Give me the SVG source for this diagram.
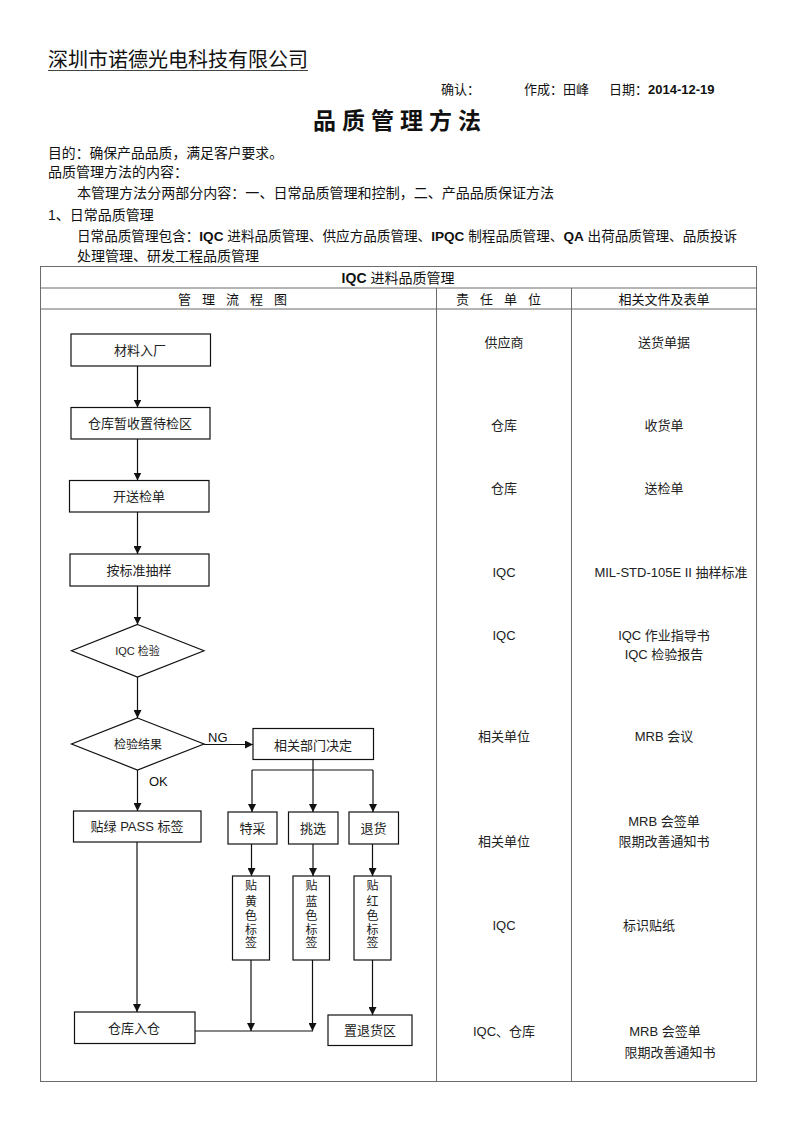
<svg xmlns="http://www.w3.org/2000/svg" width="794" height="1123" viewBox="0 0 794 1123">
<style>
text{font-family:"Liberation Sans","Noto Sans CJK SC",sans-serif;fill:#111}
.b{font-size:14px}
.f{font-size:13px;fill:#222;text-anchor:middle}
.c{text-anchor:middle}
.node{fill:#fff;stroke:#111;stroke-width:1.2}
.tl{stroke:#6b6b6b;stroke-width:1;fill:none}
.cn{stroke:#111;stroke-width:1.2;fill:none}
.bold{font-weight:bold}
</style>
<defs>
<marker id="ah" viewBox="0 0 10 10" refX="10" refY="5" markerWidth="8" markerHeight="8" markerUnits="userSpaceOnUse" orient="auto">
<path d="M0,0 L10,5 L0,10 z" fill="#111"/>
</marker>
</defs>
<rect width="794" height="1123" fill="#fff"/>

<g id="header">
<text x="48" y="67" style="font-size:20px" textLength="260" lengthAdjust="spacingAndGlyphs">深圳市诺德光电科技有限公司</text>
<line x1="48" y1="70.5" x2="308" y2="70.5" stroke="#444" stroke-width="1.2"/>
<text x="441" y="94" style="font-size:13px">确认：</text>
<text x="524" y="94" style="font-size:13px">作成：田峰</text>
<text x="609" y="94" style="font-size:13px">日期：<tspan class="bold">2014-12-19</tspan></text>
<text x="400" y="129" class="c bold" style="font-size:23px;letter-spacing:6px">品质管理方法</text>
<text x="48" y="158" class="b" textLength="235" lengthAdjust="spacingAndGlyphs">目的：确保产品品质，满足客户要求。</text>
<text x="48" y="177" class="b">品质管理方法的内容：</text>
<text x="77" y="198" class="b" textLength="477" lengthAdjust="spacingAndGlyphs">本管理方法分两部分内容：一、日常品质管理和控制，二、产品品质保证方法</text>
<text x="48" y="220" class="b">1、日常品质管理</text>
<text x="77" y="241" style="font-size:13.6px">日常品质管理包含：<tspan class="bold">IQC</tspan> 进料品质管理、供应方品质管理、<tspan class="bold">IPQC</tspan> 制程品质管理、<tspan class="bold">QA</tspan> 出荷品质管理、品质投诉</text>
<text x="77" y="261" class="b">处理管理、研发工程品质管理</text>
</g>

<g id="table">
<rect x="40.5" y="266.5" width="716" height="815" class="tl"/>
<line x1="40.5" y1="288" x2="756.5" y2="288" class="tl"/>
<line x1="40.5" y1="309" x2="756.5" y2="309" class="tl"/>
<line x1="436.5" y1="288" x2="436.5" y2="1081.5" class="tl"/>
<line x1="571.5" y1="288" x2="571.5" y2="1081.5" class="tl"/>
<text x="398" y="282.5" class="c" style="font-size:14px"><tspan class="bold">IQC</tspan> 进料品质管理</text>
<text x="238" y="303.5" class="c" style="font-size:13px;letter-spacing:11px">管理流程图</text>
<text x="504" y="303.5" class="c" style="font-size:13px;letter-spacing:11px">责任单位</text>
<text x="664" y="303.5" class="c" style="font-size:13px">相关文件及表单</text>
</g>

<g id="col-resp">
<text x="504" y="347" class="f">供应商</text>
<text x="504" y="430" class="f">仓库</text>
<text x="504" y="493" class="f">仓库</text>
<text x="504" y="577" class="f">IQC</text>
<text x="504" y="640" class="f">IQC</text>
<text x="504" y="741" class="f">相关单位</text>
<text x="504" y="846" class="f">相关单位</text>
<text x="504" y="930" class="f">IQC</text>
<text x="504" y="1036" class="f">IQC、仓库</text>
</g>

<g id="col-docs">
<text x="664" y="347" class="f">送货单据</text>
<text x="664" y="430" class="f">收货单</text>
<text x="664" y="493" class="f">送检单</text>
<text x="671" y="577" class="f">MIL-STD-105E II 抽样标准</text>
<text x="664" y="640" class="f">IQC 作业指导书</text>
<text x="664" y="659" class="f">IQC 检验报告</text>
<text x="664" y="741" class="f">MRB 会议</text>
<text x="664" y="826" class="f">MRB 会签单</text>
<text x="664" y="846" class="f">限期改善通知书</text>
<text x="649" y="930" class="f">标识贴纸</text>
<text x="665" y="1036" class="f">MRB 会签单</text>
<text x="670" y="1057" class="f">限期改善通知书</text>
</g>

<g id="connectors">
<line x1="137.5" y1="366" x2="137.5" y2="407.5" class="cn" marker-end="url(#ah)"/>
<line x1="137.5" y1="439" x2="137.5" y2="480.5" class="cn" marker-end="url(#ah)"/>
<line x1="137.5" y1="512" x2="137.5" y2="554" class="cn" marker-end="url(#ah)"/>
<line x1="137.5" y1="586" x2="137.5" y2="624.5" class="cn" marker-end="url(#ah)"/>
<line x1="137.5" y1="677" x2="137.5" y2="718" class="cn" marker-end="url(#ah)"/>
<line x1="204" y1="744.5" x2="253" y2="744.5" class="cn" marker-end="url(#ah)"/>
<line x1="137.5" y1="770" x2="137.5" y2="811" class="cn" marker-end="url(#ah)"/>
<polyline points="313,760 313,770" class="cn"/>
<line x1="252" y1="770" x2="373" y2="770" class="cn"/>
<line x1="252" y1="770" x2="252" y2="812" class="cn" marker-end="url(#ah)"/>
<line x1="313" y1="770" x2="313" y2="812" class="cn" marker-end="url(#ah)"/>
<line x1="373" y1="770" x2="373" y2="812" class="cn" marker-end="url(#ah)"/>
<line x1="251.5" y1="844" x2="251.5" y2="876" class="cn" marker-end="url(#ah)"/>
<line x1="313" y1="844" x2="313" y2="876" class="cn" marker-end="url(#ah)"/>
<line x1="372.5" y1="844" x2="372.5" y2="876" class="cn" marker-end="url(#ah)"/>
<line x1="137" y1="842" x2="137" y2="1012" class="cn" marker-end="url(#ah)"/>
<line x1="195" y1="1031" x2="313" y2="1031" class="cn"/>
<line x1="251" y1="960" x2="251" y2="1031" class="cn" marker-end="url(#ah)"/>
<line x1="312.5" y1="960" x2="312.5" y2="1031" class="cn" marker-end="url(#ah)"/>
<line x1="372.5" y1="960" x2="372.5" y2="1015" class="cn" marker-end="url(#ah)"/>
<text x="208" y="742" style="font-size:13px">NG</text>
<text x="149" y="786" style="font-size:13px">OK</text>
</g>

<g id="n-material">
<rect x="71" y="334" width="139.5" height="32" class="node"/>
<text x="140" y="355" class="f">材料入厂</text>
</g>
<g id="n-warehouse">
<rect x="71" y="407.5" width="139" height="31.5" class="node"/>
<text x="140" y="428" class="f">仓库暂收置待检区</text>
</g>
<g id="n-sendcheck">
<rect x="69.5" y="480.5" width="139.5" height="31.5" class="node"/>
<text x="139" y="501" class="f">开送检单</text>
</g>
<g id="n-sample">
<rect x="70" y="554" width="139" height="32" class="node"/>
<text x="139" y="575" class="f">按标准抽样</text>
</g>
<g id="n-iqc">
<polygon points="137.5,624.5 204,650.7 137.5,677 71.5,650.7" class="node"/>
<text x="137.5" y="655" class="f" style="font-size:11px">IQC 检验</text>
</g>
<g id="n-result">
<polygon points="137.5,718 204,744 137.5,770 71.5,744" class="node"/>
<text x="138" y="748.5" class="f" style="font-size:12px">检验结果</text>
</g>
<g id="n-decide">
<rect x="253" y="728.5" width="120.5" height="31" class="node"/>
<text x="313" y="750" class="f">相关部门决定</text>
</g>
<g id="n-pass">
<rect x="73.5" y="811" width="127.5" height="31" class="node"/>
<text x="137" y="831" class="f">贴绿 PASS 标签</text>
</g>
<g id="n-special">
<rect x="228" y="812" width="49" height="32" class="node"/>
<text x="252.5" y="833" class="f">特采</text>
</g>
<g id="n-pick">
<rect x="288.5" y="812" width="49.5" height="32" class="node"/>
<text x="313" y="833" class="f">挑选</text>
</g>
<g id="n-return">
<rect x="349" y="812" width="49.5" height="32" class="node"/>
<text x="373.5" y="833" class="f">退货</text>
</g>
<g id="n-yellow">
<rect x="232.5" y="876" width="37" height="84" class="node"/>
<text class="f" style="font-size:12px"><tspan x="251" y="890">贴</tspan><tspan x="251" y="906">黄</tspan><tspan x="251" y="920">色</tspan><tspan x="251" y="934">标</tspan><tspan x="251" y="947">签</tspan></text>
</g>
<g id="n-blue">
<rect x="293" y="876" width="36.5" height="84" class="node"/>
<text class="f" style="font-size:12px"><tspan x="311.5" y="890">贴</tspan><tspan x="311.5" y="906">蓝</tspan><tspan x="311.5" y="920">色</tspan><tspan x="311.5" y="934">标</tspan><tspan x="311.5" y="947">签</tspan></text>
</g>
<g id="n-red">
<rect x="354" y="876" width="37" height="84" class="node"/>
<text class="f" style="font-size:12px"><tspan x="372.5" y="890">贴</tspan><tspan x="372.5" y="906">红</tspan><tspan x="372.5" y="920">色</tspan><tspan x="372.5" y="934">标</tspan><tspan x="372.5" y="947">签</tspan></text>
</g>
<g id="n-store">
<rect x="74.5" y="1012" width="120.5" height="31.5" class="node"/>
<text x="134" y="1033" class="f">仓库入仓</text>
</g>
<g id="n-returnarea">
<rect x="328" y="1015" width="84" height="30.5" class="node"/>
<text x="370" y="1035" class="f">置退货区</text>
</g>
</svg>
